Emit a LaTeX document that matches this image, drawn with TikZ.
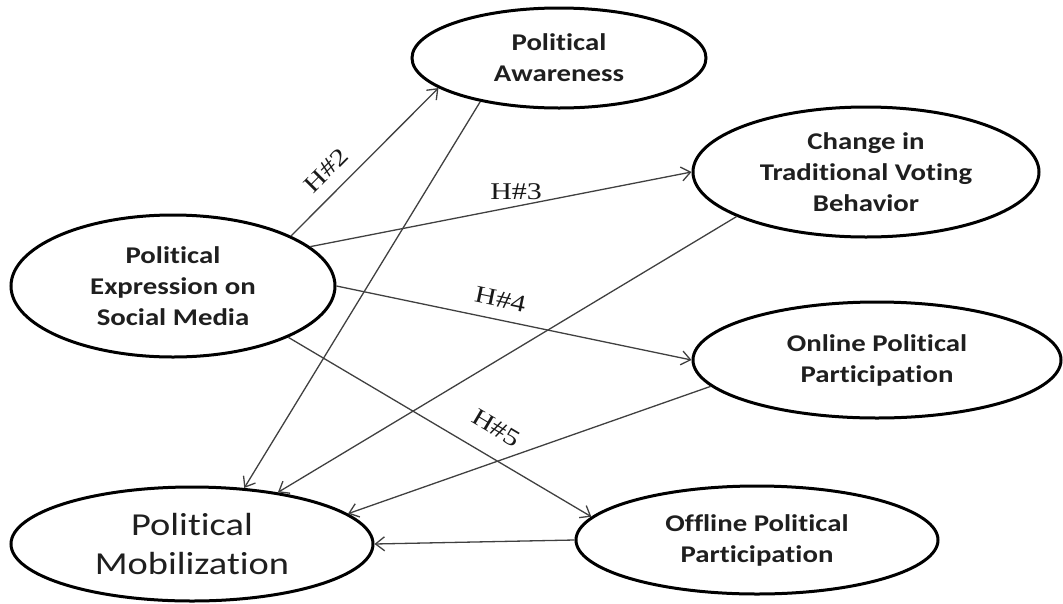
\documentclass[tikz,border=0pt]{standalone}
\usepackage{fontspec}
\setmainfont[FakeStretch=1.2,RawFeature={-liga;-clig;-calt}]{Carlito}
\newfontfamily\labfont[FakeStretch=1.25]{Liberation Serif}
\usetikzlibrary{shapes.geometric,arrows.meta}
\begin{document}
\begin{tikzpicture}[x=1pt,y=-1pt,
  concept/.style={ellipse,draw=black,line width=3pt,inner sep=0pt,align=center,
    font=\fontsize{24}{31}\selectfont\bfseries,text=black!88},
  bigconcept/.style={concept,font=\fontsize{32}{39}\selectfont},
  link/.style={draw=black!75,line width=1.3pt,-{Straight Barb[length=9pt,width=14pt]}},
  hyp/.style={font=\labfont\fontsize{24}{24}\selectfont,inner sep=0pt,text=black!90}]
\useasboundingbox (0,0) rectangle (1063,603);

\node[concept,minimum width=294pt,minimum height=100pt] (aw) at (559,58) {Political\\Awareness};
\node[concept,minimum width=324pt,minimum height=142pt] (ex) at (173,286) {Political\\Expression on\\Social Media};
\node[concept,minimum width=346pt,minimum height=130pt] (ch) at (866,172) {Change in\\Traditional Voting\\Behavior};
\node[concept,minimum width=368pt,minimum height=116pt] (on) at (877,360) {Online Political\\Participation};
\node[concept,minimum width=362pt,minimum height=108pt] (of) at (757,540) {Offline Political\\Participation};
\node[bigconcept,minimum width=362pt,minimum height=114pt] (mo) at (192,544) {Political\\Mobilization};

\draw[link] (ex.23) -- node[hyp,sloped,pos=0.34,above=13pt] {H\#2} (aw.-166);
\draw[link] (ex.16) -- node[hyp,pos=0.54,above=6pt] {H\#3} (ch.180);
\draw[link] (ex.0) -- node[hyp,sloped,pos=0.45,above=12pt] {H\#4} (on.180);
\draw[link] (ex.-24) -- node[hyp,sloped,pos=0.64,above=19pt] {H\#5} (of.172.5);

\draw[link] (aw.-151) -- (mo.47);
\draw[link] (ch.-161) -- (mo.31);
\draw[link] (on.-171) -- (mo.11);
\draw[link] (of.180) -- (mo.0);
\end{tikzpicture}
\end{document}
